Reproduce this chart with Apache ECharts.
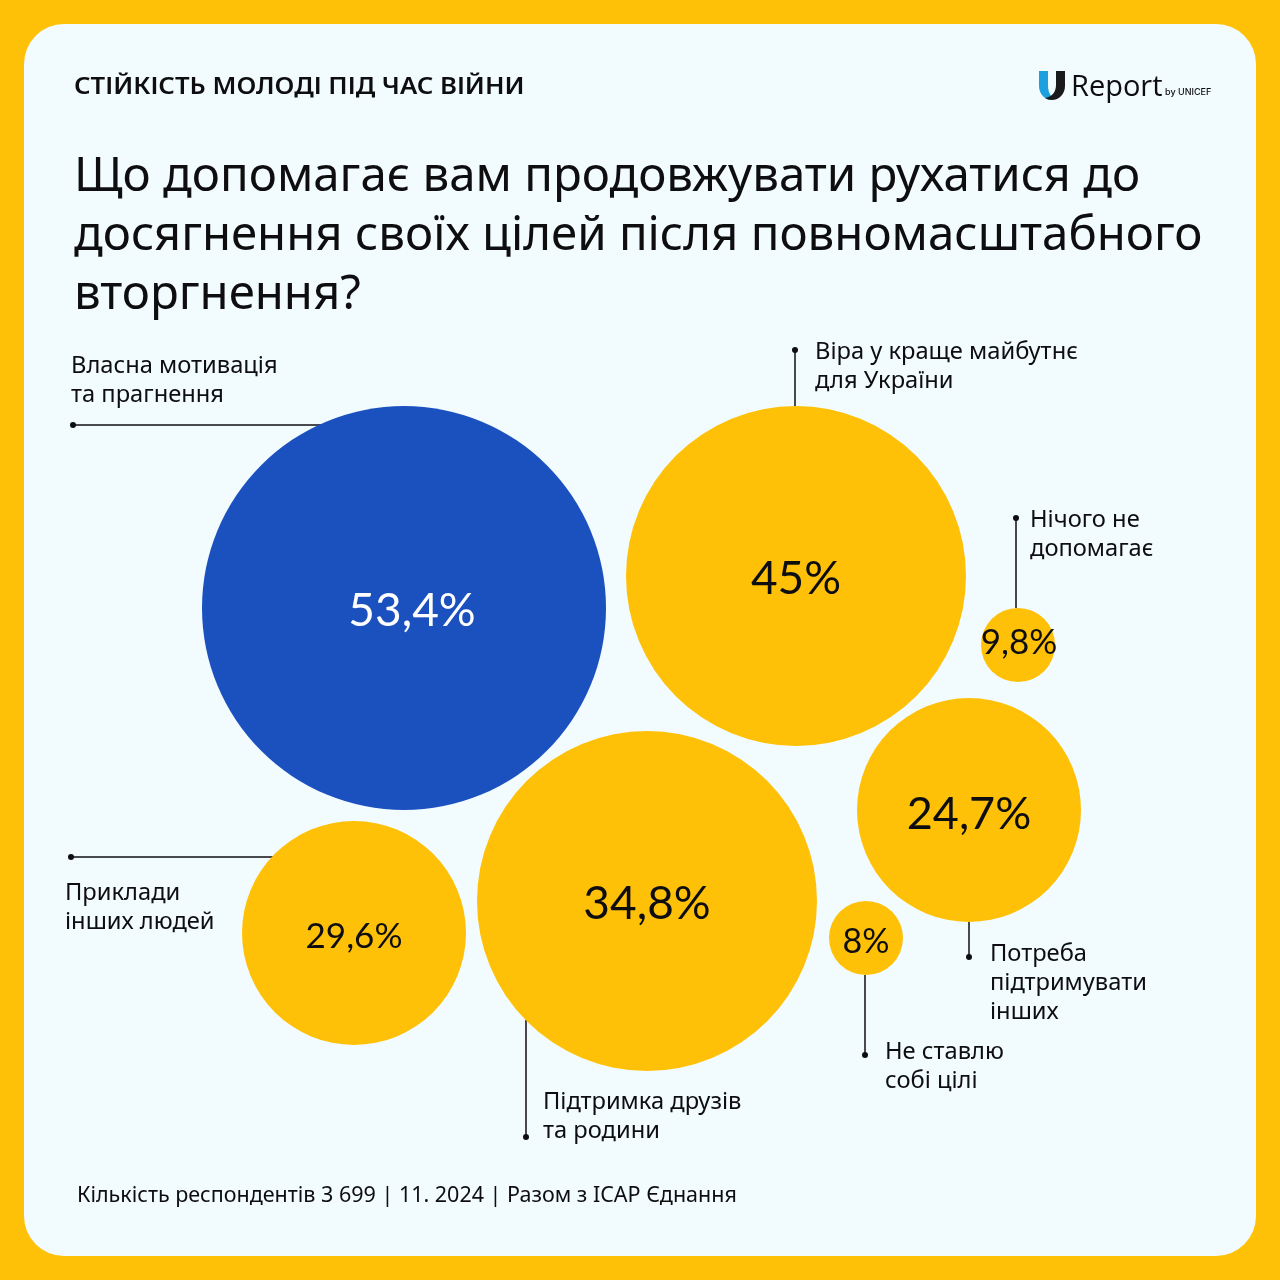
<!DOCTYPE html>
<html><head><meta charset="utf-8">
<style>html,body{margin:0;padding:0;background:#FFC107}#c{width:1280px;height:1280px}</style>
<script src="https://cdn.jsdelivr.net/npm/echarts@6/dist/echarts.min.js"></script>
</head><body><div id="c"></div>
<script>
// ---- data ----
const categories = ['Власна мотивація\nта прагнення','Віра у краще майбутнє\nдля України','Нічого не\nдопомагає','Потреба\nпідтримувати\nінших','Не ставлю\nсобі цілі','Підтримка друзів\nта родини','Приклади\nінших людей'];
const values = [53.4,45,9.8,24.7,8,34.8,29.6];
const valueLabels = ['53,4%','45%','9,8%','24,7%','8%','34,8%','29,6%'];
const headerText = 'СТІЙКІСТЬ МОЛОДІ ПІД ЧАС ВІЙНИ';
const titleLines = ['Що допомагає вам продовжувати рухатися до','досягнення своїх цілей після повномасштабного','вторгнення?'];
const footerText = 'Кількість респондентів 3 699 | 11. 2024 | Разом з ICAP Єднання';

// ---- layout (bubble placement in the infographic, not data) ----
const centers = [[404,608],[796,576],[1018,645],[969,810],[866,938],[647,901],[354,933]];
const radii = [202,170,37,112,37,170,112];
const labelOffsets = [[8,3],[0,3],[1,-2],[0,4],[0,4],[0,3],[0,4]];
const labelSizes = [46,46,35,45,34,46,35];
const leaders = [[[73,425],[322,425]],[[795,350],[795,407]],[[1016,518],[1016,608]],[[969,957],[969,922]],[[865,1055],[865,975]],[[526,1137],[526,1020]],[[71,857],[274,857]]];
const textAnchors = [[71,352],[815,338],[1030,506],[990,940],[885,1038],[543,1088],[65,879]];

const BLUE='#1B51BF', YELLOW='#FFC107', INK='#0E0E10', PANEL='#F2FBFE';
const SANS='"Noto Sans","Open Sans",sans-serif', NUM='Lato,"Noto Sans",sans-serif';

echarts.graphic.registerShape('logoLeft', echarts.graphic.extendPath('M1039 71H1048V85C1048 90 1049 94 1052 97L1052 100C1045 100 1039 94 1039 86Z'));
echarts.graphic.registerShape('logoRight', echarts.graphic.extendPath('M1056 71H1065V86C1065 94 1059 100 1052 100C1049 100 1047 99 1045 98C1052 97 1056 92 1056 85Z'));

const points = values.map((v,i)=>({
  name: categories[i],
  value:[centers[i][0],centers[i][1],v],
  symbolSize: radii[i]*2,
  itemStyle:{color:i===0?BLUE:YELLOW,opacity:1},
  label:{show:true,position:'inside',formatter:valueLabels[i],offset:labelOffsets[i],
    fontFamily:NUM,fontSize:labelSizes[i],fontWeight:400,color:i===0?'#FFFFFF':INK}
}));

const leaderSeries = leaders.map(seg=>({
  type:'line',data:seg,z:1,silent:true,animation:false,
  symbol:'circle',symbolSize:(v,p)=>p.dataIndex===0?6:0,showSymbol:true,
  lineStyle:{color:INK,width:1.5},itemStyle:{color:INK}
}));

const txt=(x,y,text,fontSize,fontWeight,lineHeight,font)=>({type:'text',x,y,z:5,silent:true,
  style:{text,fontFamily:font||SANS,fontSize,fontWeight:fontWeight||400,fill:INK,lineHeight:lineHeight||undefined,textVerticalAlign:'top',textAlign:'left'}});

const graphics=[
  {type:'rect',z:-10,silent:true,shape:{x:24,y:24,width:1232,height:1232,r:40},style:{fill:PANEL}},
  Object.assign(txt(74,72,headerText,22.5,600,32),{scaleX:1.145}),
  ...titleLines.map((t,i)=>txt(74,144+i*59,t,47.4,400,66)),
  ...categories.map((c,i)=>txt(textAnchors[i][0],textAnchors[i][1],c,23.7,400,29)),
  txt(77,1182,footerText,21.5,400,28),
  {type:'logoLeft',z:5,silent:true,style:{fill:'#1CA0DE'}},
  {type:'logoRight',z:6,silent:true,style:{fill:'#1A1A1C'}},
  txt(1071,71,'Report',29,400,34,'"Open Sans",sans-serif'),
  txt(1165,85,'by UNICEF',9,500,14,'Inter,sans-serif')
];

const chart=echarts.init(document.getElementById('c'),null,{renderer:'canvas',width:1280,height:1280});
chart.setOption({
  animation:false,
  backgroundColor:YELLOW,
  grid:{left:0,top:0,width:1280,height:1280},
  xAxis:{type:'value',min:0,max:1280,show:false},
  yAxis:{type:'value',min:0,max:1280,inverse:true,show:false},
  graphic:{elements:graphics},
  series:[...leaderSeries,{type:'scatter',z:2,data:points,silent:true}]
});
</script></body></html>
